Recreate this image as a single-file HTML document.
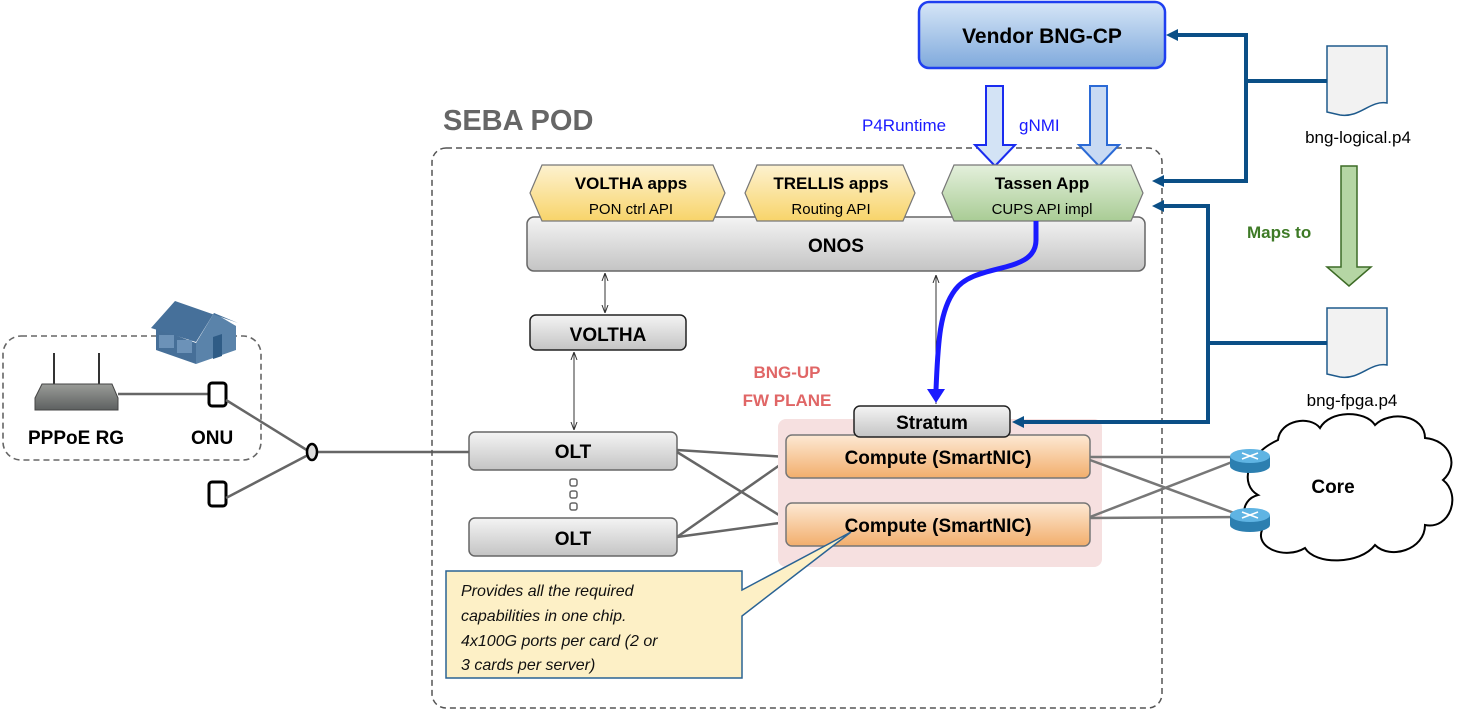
<!DOCTYPE html>
<html><head><meta charset="utf-8"><style>
html,body{margin:0;padding:0;background:#fff;}
svg{display:block;font-family:"Liberation Sans",sans-serif;}
</style></head><body>
<svg width="1483" height="710" viewBox="0 0 1483 710" xmlns="http://www.w3.org/2000/svg">
<defs>
<linearGradient id="gb" x1="0" y1="0" x2="0" y2="1"><stop offset="0" stop-color="#d6e6f7"/><stop offset="1" stop-color="#7fa9dc"/></linearGradient>
<linearGradient id="gy" x1="0" y1="0" x2="0" y2="1"><stop offset="0" stop-color="#fdf2d0"/><stop offset="1" stop-color="#f8d46a"/></linearGradient>
<linearGradient id="gg" x1="0" y1="0" x2="0" y2="1"><stop offset="0" stop-color="#e4f0dc"/><stop offset="1" stop-color="#a9cc95"/></linearGradient>
<linearGradient id="gs" x1="0" y1="0" x2="0" y2="1"><stop offset="0" stop-color="#f4f4f4"/><stop offset="1" stop-color="#c4c4c4"/></linearGradient>
<linearGradient id="go" x1="0" y1="0" x2="0" y2="1"><stop offset="0" stop-color="#fde9d4"/><stop offset="1" stop-color="#f2ae6c"/></linearGradient>
<linearGradient id="gr" x1="0" y1="0" x2="0" y2="1"><stop offset="0" stop-color="#9a9c98"/><stop offset="1" stop-color="#5d6060"/></linearGradient>
<marker id="at" markerWidth="8" markerHeight="8" refX="7" refY="4" orient="auto-start-reverse" markerUnits="userSpaceOnUse"><path d="M0,1 L8,4 L0,7" fill="none" stroke="#333" stroke-width="1"/></marker>
</defs>

<!-- home dashed box -->
<rect x="3" y="336" width="258" height="124" rx="18" fill="none" stroke="#666" stroke-width="1.6" stroke-dasharray="6,4"/>
<!-- house -->
<polygon points="156,328 196,343 196,364 156,350" fill="#466f98"/>
<polygon points="196,343 214,313 236,326 236,350 196,364" fill="#5a83aa"/>
<polygon points="151,328 175,301 238,323 214,313 196,342" fill="#46709a"/>
<rect x="159" y="335" width="15" height="13" fill="#6c92b8"/><rect x="177" y="340" width="15" height="13" fill="#6c92b8"/>
<polygon points="213,337 222,334 222,356 213,359" fill="#2f5c86"/>
<!-- router -->
<line x1="54" y1="353" x2="54" y2="384" stroke="#333" stroke-width="2"/><line x1="99" y1="353" x2="99" y2="384" stroke="#333" stroke-width="2"/>
<path d="M42,384 L112,384 L118,398 L118,410 L35,410 L35,398 Z" fill="url(#gr)" stroke="#444"/>
<line x1="118" y1="394" x2="208" y2="394" stroke="#666" stroke-width="2.5"/>
<text x="28" y="444" font-weight="bold" font-size="19" fill="#000">PPPoE RG</text>
<text x="191" y="444" font-weight="bold" font-size="19" fill="#000">ONU</text>
<rect x="209" y="383" width="17" height="23" rx="3" fill="#fff" stroke="#000" stroke-width="3"/>
<rect x="209" y="482" width="17" height="24" rx="3" fill="#fff" stroke="#000" stroke-width="3"/>
<line x1="226" y1="400" x2="310" y2="452" stroke="#666" stroke-width="2.5"/>
<line x1="226" y1="498" x2="310" y2="454" stroke="#666" stroke-width="2.5"/>
<line x1="316" y1="452" x2="470" y2="452" stroke="#666" stroke-width="2.5"/>
<ellipse cx="312" cy="452" rx="5" ry="8" fill="#ddd" stroke="#000" stroke-width="2.5"/>

<!-- SEBA POD -->
<text x="443" y="130" font-weight="bold" font-size="29" fill="#666">SEBA POD</text>
<rect x="432" y="148" width="730" height="560" rx="14" fill="none" stroke="#555" stroke-width="1.5" stroke-dasharray="6,4"/>

<!-- Vendor BNG-CP -->
<rect x="919" y="2" width="246" height="66" rx="10" fill="url(#gb)" stroke="#1f3ff0" stroke-width="2.5"/>
<text x="1042" y="43" text-anchor="middle" font-weight="bold" font-size="21">Vendor BNG-CP</text>
<path d="M986,86 L1003,86 L1003,145 L1015,145 L995,166 L975,145 L986,145 Z" fill="#d3e3f5" stroke="#1a2cf0" stroke-width="2"/>
<path d="M1090,86 L1107,86 L1107,145 L1119,145 L1099,166 L1079,145 L1090,145 Z" fill="#c8daf3" stroke="#2b6ad6" stroke-width="2"/>
<text x="862" y="131" font-size="17" fill="#1a1aff">P4Runtime</text>
<text x="1019" y="131" font-size="17" fill="#1a1aff">gNMI</text>

<!-- ONOS -->
<rect x="527" y="217" width="618" height="54" rx="7" fill="url(#gs)" stroke="#666" stroke-width="1.5"/>
<text x="836" y="252" text-anchor="middle" font-weight="bold" font-size="19">ONOS</text>
<polygon points="542,165 713,165 725,193 713,221 542,221 530,193" fill="url(#gy)" stroke="#777" stroke-width="1.2"/>
<text x="631" y="189" text-anchor="middle" font-weight="bold" font-size="17">VOLTHA apps</text>
<text x="631" y="214" text-anchor="middle" font-size="15">PON ctrl API</text>
<polygon points="757,165 903,165 915,193 903,221 757,221 745,193" fill="url(#gy)" stroke="#777" stroke-width="1.2"/>
<text x="831" y="189" text-anchor="middle" font-weight="bold" font-size="17">TRELLIS apps</text>
<text x="831" y="214" text-anchor="middle" font-size="15">Routing API</text>
<polygon points="954,165 1131,165 1143,193 1131,221 954,221 942,193" fill="url(#gg)" stroke="#777" stroke-width="1.2"/>
<text x="1042" y="189" text-anchor="middle" font-weight="bold" font-size="17">Tassen App</text>
<text x="1042" y="214" text-anchor="middle" font-size="15">CUPS API impl</text>

<!-- VOLTHA -->
<line x1="605" y1="274" x2="605" y2="312" stroke="#333" marker-start="url(#at)" marker-end="url(#at)"/>
<rect x="530" y="315" width="156" height="35" rx="6" fill="url(#gs)" stroke="#222" stroke-width="1.5"/>
<text x="608" y="341" text-anchor="middle" font-weight="bold" font-size="19">VOLTHA</text>
<line x1="574" y1="353" x2="574" y2="429" stroke="#333" marker-start="url(#at)" marker-end="url(#at)"/>

<!-- OLTs -->
<line x1="677" y1="450" x2="787" y2="457" stroke="#666" stroke-width="2.5"/>
<line x1="677" y1="452" x2="787" y2="520" stroke="#666" stroke-width="2.5"/>
<line x1="677" y1="537" x2="787" y2="460" stroke="#666" stroke-width="2.5"/>
<line x1="677" y1="537" x2="787" y2="522" stroke="#666" stroke-width="2.5"/>
<rect x="469" y="432" width="208" height="38" rx="6" fill="url(#gs)" stroke="#666" stroke-width="1.5"/>
<text x="573" y="458" text-anchor="middle" font-weight="bold" font-size="19">OLT</text>
<rect x="570" y="479" width="7" height="7" rx="2" fill="#fff" stroke="#666" stroke-width="1.5"/>
<rect x="570" y="491" width="7" height="7" rx="2" fill="#fff" stroke="#666" stroke-width="1.5"/>
<rect x="570" y="503" width="7" height="7" rx="2" fill="#fff" stroke="#666" stroke-width="1.5"/>
<rect x="469" y="518" width="208" height="38" rx="6" fill="url(#gs)" stroke="#666" stroke-width="1.5"/>
<text x="573" y="545" text-anchor="middle" font-weight="bold" font-size="19">OLT</text>

<!-- BNG-UP -->
<text x="787" y="378" text-anchor="middle" font-weight="bold" font-size="17" fill="#e06666">BNG-UP</text>
<text x="787" y="406" text-anchor="middle" font-weight="bold" font-size="17" fill="#e06666">FW PLANE</text>
<rect x="778" y="419" width="324" height="148" rx="8" fill="#f6e0e0"/>
<line x1="1090" y1="457" x2="1245" y2="457" stroke="#777" stroke-width="2.5"/>
<line x1="1090" y1="460" x2="1245" y2="517" stroke="#777" stroke-width="2.5"/>
<line x1="1090" y1="517" x2="1245" y2="457" stroke="#777" stroke-width="2.5"/>
<line x1="1090" y1="518" x2="1245" y2="517" stroke="#777" stroke-width="2.5"/>
<rect x="786" y="435" width="304" height="43" rx="6" fill="url(#go)" stroke="#777" stroke-width="1.5"/>
<text x="938" y="464" text-anchor="middle" font-weight="bold" font-size="19">Compute (SmartNIC)</text>
<rect x="786" y="503" width="304" height="43" rx="6" fill="url(#go)" stroke="#777" stroke-width="1.5"/>
<text x="938" y="532" text-anchor="middle" font-weight="bold" font-size="19">Compute (SmartNIC)</text>
<rect x="854" y="406" width="156" height="31" rx="6" fill="url(#gs)" stroke="#222" stroke-width="1.5"/>
<text x="932" y="429" text-anchor="middle" font-weight="bold" font-size="19">Stratum</text>

<line x1="936" y1="276" x2="936" y2="404" stroke="#333" marker-start="url(#at)"/>
<path d="M1036,221 L1036,240 C1036,275 975,262 955,290 C940,310 938,340 936,390" fill="none" stroke="#1a1aff" stroke-width="5"/>
<path d="M927,389 L945,389 L936,403 Z" fill="#1a1aff"/>

<!-- callout -->
<path d="M446,571 L742,571 L742,590 L851,532 L742,616 L742,678 L446,678 Z" fill="#fdf0c6" stroke="#2a6394" stroke-width="1.5"/>
<g font-style="italic" font-size="16" fill="#111">
<text x="461" y="596">Provides all the required</text>
<text x="461" y="621">capabilities in one chip.</text>
<text x="461" y="646">4x100G ports per card (2 or</text>
<text x="461" y="670">3 cards per server)</text>
</g>

<!-- cloud -->
<path d="M1278,440 C1280,420 1310,415 1320,428 C1330,410 1365,410 1375,425 C1390,410 1425,415 1425,438 C1450,440 1460,465 1443,480 C1462,495 1450,530 1425,525 C1425,550 1390,560 1375,545 C1360,565 1315,565 1305,548 C1285,560 1255,548 1262,530 C1240,528 1238,500 1258,495 C1240,485 1245,455 1278,440 Z" fill="#fff" stroke="#000" stroke-width="2"/>
<text x="1333" y="493" text-anchor="middle" font-weight="bold" font-size="19">Core</text>
<g>
<ellipse cx="1250" cy="466" rx="20" ry="7" fill="#2c7fb0"/><rect x="1230" y="456" width="40" height="10" fill="#2c7fb0"/><ellipse cx="1250" cy="456" rx="20" ry="7" fill="#5fb4e3"/>
<path d="M1242,453 L1258,459 M1258,453 L1242,459" stroke="#fff" stroke-width="1.5"/>
<ellipse cx="1250" cy="525" rx="20" ry="7" fill="#2c7fb0"/><rect x="1230" y="515" width="40" height="10" fill="#2c7fb0"/><ellipse cx="1250" cy="515" rx="20" ry="7" fill="#5fb4e3"/>
<path d="M1242,512 L1258,518 M1258,512 L1242,518" stroke="#fff" stroke-width="1.5"/>
</g>

<!-- docs -->
<path d="M1327,46 L1387,46 L1387,103 C1370,100 1360,118 1340,115 L1327,112 Z" fill="#f2f2f2" stroke="#1e5a8c" stroke-width="1.5"/>
<text x="1358" y="143" text-anchor="middle" font-size="17">bng-logical.p4</text>
<path d="M1327,308 L1387,308 L1387,365 C1370,362 1360,380 1340,377 L1327,374 Z" fill="#f2f2f2" stroke="#1e5a8c" stroke-width="1.5"/>
<text x="1352" y="406" text-anchor="middle" font-size="17">bng-fpga.p4</text>

<path d="M1341,166 L1357,166 L1357,267 L1371,267 L1349,286 L1327,267 L1341,267 Z" fill="#b5d6a4" stroke="#3d6b26" stroke-width="1.5"/>
<text x="1247" y="238" font-weight="bold" font-size="17" fill="#3e7a26">Maps to</text>

<g fill="none" stroke="#0b4f86" stroke-width="4">
<path d="M1327,81 L1246,81"/>
<path d="M1175,35 L1246,35 L1246,181 L1162,181"/>
<path d="M1327,343 L1208,343"/>
<path d="M1162,206 L1208,206 L1208,422 L1022,422"/>
</g>
<path d="M1166,35 L1178,29 L1178,41 Z" fill="#0b4f86"/>
<path d="M1152,181 L1164,175 L1164,187 Z" fill="#0b4f86"/>
<path d="M1152,206 L1164,200 L1164,212 Z" fill="#0b4f86"/>
<path d="M1012,422 L1024,416 L1024,428 Z" fill="#0b4f86"/>
</svg>
</body></html>
